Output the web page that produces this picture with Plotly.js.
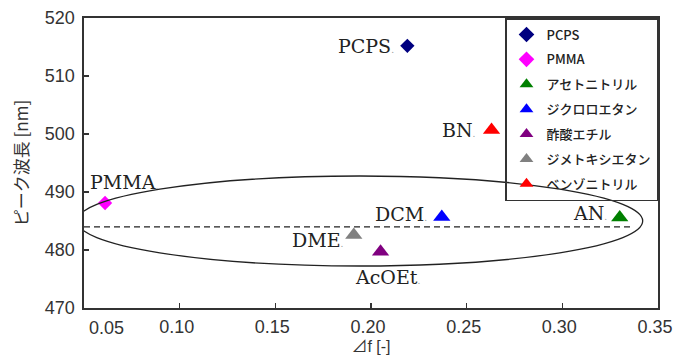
<!DOCTYPE html>
<html>
<head>
<meta charset="utf-8">
<script src="https://cdn.plot.ly/plotly-3.0.1.min.js"></script>
<style>html,body{margin:0;padding:0;background:#fff;}#chart{width:682px;height:361px;}</style>
</head>
<body>
<div id="chart"></div>
<script>
// ---- data ----
var seriesNames = ['PCPS', 'PMMA', 'アセトニトリル', 'ジクロロエタン', '酢酸エチル', 'ジメトキシエタン', 'ベンゾニトリル'];
var pointLabels = ['PCPS', 'PMMA', 'AN', 'DCM', 'AcOEt', 'DME', 'BN'];
var deltaF = [0.219, 0.061, 0.330, 0.237, 0.205, 0.191, 0.263];
var peakWavelength = [515.2, 488.1, 485.6, 485.7, 479.7, 482.6, 500.7];
var refLineX = [0.05, 0.336];
var refLineY = [484, 484];
var xTickVals = [0.05, 0.10, 0.15, 0.20, 0.25, 0.30, 0.35];
var xTickText = ['', '0.10', '0.15', '0.20', '0.25', '0.30', '0.35'];
var yTickVals = [470, 480, 490, 500, 510, 520];

// ---- styles ----
var colors = ['#000080', '#FF00FF', '#008000', '#0000FF', '#800080', '#808080', '#FF0000'];
var symbols = ['diamond', 'diamond', 'triangle-up', 'triangle-up', 'triangle-up', 'triangle-up', 'triangle-up'];
var sizes = [11, 11, 15, 15, 15, 15, 15];
// label placement: [xanchor, xshift, yshift]
var labelPlace = [
  ['right', -11, 0],
  ['left', -17, 21],
  ['right', -11, 5],
  ['right', -13, 3],
  ['center', 7, -25],
  ['right', -8, -5],
  ['right', -14, 0]
];

var traces = [];
for (var i = 0; i < seriesNames.length; i++) {
  traces.push({
    type: 'scatter', mode: 'markers',
    x: [deltaF[i]], y: [peakWavelength[i]],
    name: seriesNames[i],
    legendgroup: 'g' + i,
    marker: {color: colors[i], symbol: symbols[i], size: sizes[i], line: {width: 0}},
    cliponaxis: false
  });
}
traces.unshift({
  type: 'scatter', mode: 'lines', x: refLineX, y: refLineY,
  line: {color: '#222', width: 1.3, dash: '6px,4px'},
  showlegend: false, hoverinfo: 'skip'
});

var annotations = [];
for (var j = 0; j < pointLabels.length; j++) {
  annotations.push({
    x: deltaF[j], y: peakWavelength[j], xref: 'x', yref: 'y',
    text: pointLabels[j] + '<span style="color:#999999;font-size:9px">.</span>',
    showarrow: false, xanchor: labelPlace[j][0], yanchor: 'middle',
    xshift: labelPlace[j][1], yshift: labelPlace[j][2],
    font: {family: 'DejaVu Serif', size: 19, color: '#222'}
  });
}
annotations.push({
  x: 0.04, y: 0, xref: 'paper', yref: 'paper', text: '0.05', showarrow: false,
  xanchor: 'center', yanchor: 'top', yshift: -8,
  font: {family: 'Liberation Sans', size: 18, color: '#333'}
});

var axisFont = {family: 'Liberation Sans', size: 18, color: '#333'};
var layout = {
  width: 682, height: 361,
  margin: {l: 84, r: 24, t: 18, b: 53, pad: 0},
  paper_bgcolor: '#fff', plot_bgcolor: '#fff',
  showlegend: true,
  xaxis: {
    range: [0.05, 0.35], tickvals: xTickVals, ticktext: xTickText,
    ticks: 'inside', ticklen: 5, tickwidth: 1.3, tickcolor: '#333',
    showline: true, linecolor: '#333', linewidth: 1.6, mirror: true,
    showgrid: false, zeroline: false, tickfont: axisFont,
    ticklabelshift: -3, ticklabelstandoff: 2,
    title: {text: '⊿f [-]', font: {family: 'Liberation Sans, Noto Sans CJK JP', size: 16, color: '#333'}, standoff: 4}
  },
  yaxis: {
    range: [470, 520], tickvals: yTickVals,
    ticks: 'inside', ticklen: 5, tickwidth: 1.3, tickcolor: '#333',
    showline: true, linecolor: '#333', linewidth: 1.6, mirror: true,
    showgrid: false, zeroline: false, tickfont: axisFont,
    ticklabelstandoff: 4,
    title: {text: 'ピーク波長 [nm]', font: {family: 'Noto Sans CJK JP', size: 17, color: '#333'}, standoff: 12}
  },
  legend: {
    x: 1, xanchor: 'right', y: 1, yanchor: 'top',
    bgcolor: 'rgba(255,255,255,0)', bordercolor: '#333', borderwidth: 1.5,
    font: {family: 'Noto Sans CJK JP', size: 13, color: '#222', weight: 500},
    traceorder: 'grouped', tracegroupgap: 5, itemsizing: 'constant'
  },
  shapes: [{
    type: 'circle', xref: 'x', yref: 'y', layer: 'above',
    x0: 0.0463, x1: 0.342, y0: 477.24, y1: 492.76,
    line: {color: '#222', width: 1.3}
  }],
  annotations: annotations
};

Plotly.newPlot('chart', traces, layout, {staticPlot: true, displayModeBar: false});
</script>
</body>
</html>
